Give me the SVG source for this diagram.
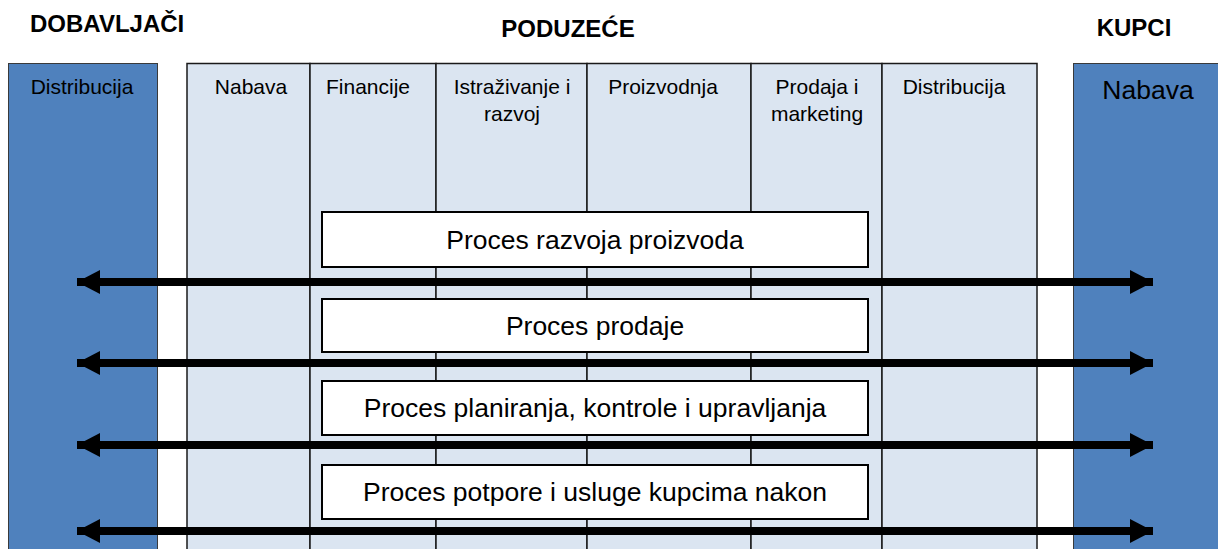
<svg xmlns="http://www.w3.org/2000/svg" width="1218" height="549" viewBox="0 0 1218 549">
<style>
.hdr{font-family:"Liberation Sans",Arial,sans-serif;font-weight:bold;font-size:24px;fill:#000}
.col{font-family:"Liberation Sans",Arial,sans-serif;font-size:21px;fill:#000;text-anchor:middle}
.proc{font-family:"Liberation Sans",Arial,sans-serif;font-size:26.5px;fill:#000;text-anchor:middle}
.blue{fill:#4F81BD;stroke:#3A3A3A;stroke-width:1}
.light{fill:#DBE5F1;stroke:#1a1a1a;stroke-width:1.5}
.box{fill:#fff;stroke:#000;stroke-width:2}
.arr{stroke:#000;stroke-width:8;marker-start:url(#hl);marker-end:url(#hr)}
</style>
<defs>
<marker id="hr" markerUnits="userSpaceOnUse" markerWidth="24" markerHeight="24" refX="23" refY="12" orient="auto" viewBox="0 0 24 24"><path d="M0,0 L23,12 L0,24 Z" fill="#000"/></marker>
<marker id="hl" markerUnits="userSpaceOnUse" markerWidth="24" markerHeight="24" refX="1" refY="12" orient="auto" viewBox="0 0 24 24"><path d="M24,0 L1,12 L24,24 Z" fill="#000"/></marker>
</defs>
<rect width="1218" height="549" fill="#fff"/>
<text class="hdr" x="30" y="32">DOBAVLJAČI</text>
<text class="hdr" x="568" y="37" text-anchor="middle">PODUZEĆE</text>
<text class="hdr" x="1134" y="36" text-anchor="middle">KUPCI</text>

<g id="dobavljaci">
<rect class="blue" x="8.5" y="63.5" width="149" height="490"/>
<text class="col" x="82" y="94">Distribucija</text>
</g>
<g id="kupci">
<rect class="blue" x="1073.5" y="63.5" width="150" height="490"/>
<text class="col" x="1148" y="99" style="font-size:26.5px">Nabava</text>
</g>
<g id="nabava">
<rect class="light" x="187" y="63.5" width="123" height="490"/>
<text class="col" x="251" y="94">Nabava</text>
</g>
<g id="financije">
<rect class="light" x="310" y="63.5" width="126" height="490"/>
<text class="col" x="368" y="94">Financije</text>
</g>
<g id="istrazivanje">
<rect class="light" x="436" y="63.5" width="151" height="490"/>
<text class="col" x="512" y="94">Istraživanje i</text>
<text class="col" x="512" y="121">razvoj</text>
</g>
<g id="proizvodnja">
<rect class="light" x="587" y="63.5" width="164" height="490"/>
<text class="col" x="663" y="94">Proizvodnja</text>
</g>
<g id="prodaja">
<rect class="light" x="751" y="63.5" width="131" height="490"/>
<text class="col" x="817" y="94">Prodaja i</text>
<text class="col" x="817" y="121">marketing</text>
</g>
<g id="distribucija">
<rect class="light" x="882" y="63.5" width="155" height="490"/>
<text class="col" x="954" y="94">Distribucija</text>
</g>

<g id="p1">
<rect class="box" x="322" y="212" width="546" height="55"/>
<text class="proc" x="595" y="249">Proces razvoja proizvoda</text>
</g>
<g id="p2">
<rect class="box" x="322" y="299" width="546" height="53"/>
<text class="proc" x="595" y="335">Proces prodaje</text>
</g>
<g id="p3">
<rect class="box" x="322" y="381" width="546" height="54"/>
<text class="proc" x="595" y="417">Proces planiranja, kontrole i upravljanja</text>
</g>
<g id="p4">
<rect class="box" x="322" y="465" width="546" height="54"/>
<text class="proc" x="595" y="501">Proces potpore i usluge kupcima nakon</text>
</g>

<g id="connectors">
<line class="arr" x1="77" y1="282" x2="1153" y2="282"/>
<line class="arr" x1="77" y1="363" x2="1153" y2="363"/>
<line class="arr" x1="77" y1="445" x2="1153" y2="445"/>
<line class="arr" x1="77" y1="531" x2="1153" y2="531"/>
</g>
</svg>
